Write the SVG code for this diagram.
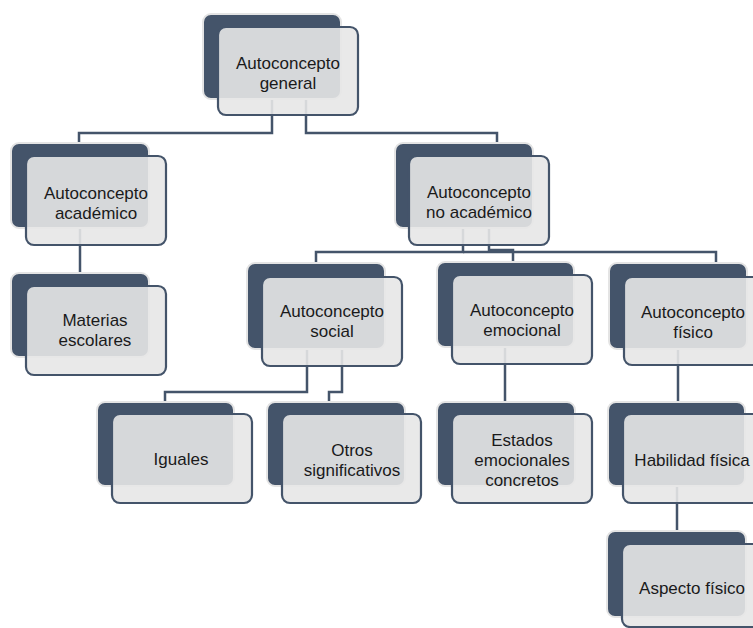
<svg xmlns="http://www.w3.org/2000/svg" width="753" height="628" viewBox="0 0 753 628">
<style>
.back{fill:#44546A;stroke:#e4e4e4;stroke-width:2}
.front{fill:#e7e7e7;fill-opacity:0.9;stroke:#44546A;stroke-width:2.2}
.lbl{font-family:"Liberation Sans",Arial,sans-serif;font-size:17px;fill:#1a1a1a;text-anchor:middle}
.conn{fill:none;stroke:#44546A;stroke-width:2.5}
</style>
<rect width="753" height="628" fill="#ffffff"/>
<g id="connectors" class="conn">
<path d="M272,60 V133 H79 V145"/>
<path d="M306,60 V133 H497 V145"/>
<path d="M80,200 V275"/>
<path d="M463,200 V252 H316 V265"/>
<path d="M463,252 H716 V265"/>
<path d="M489,200 V250 H513 V264"/>
<path d="M307,320 V392 H165 V404"/>
<path d="M342,320 V392 H329 V404"/>
<path d="M505,320 V404"/>
<path d="M678,320 V404"/>
<path d="M677,460 V533"/>
</g>
<g id="n-general">
<rect class="back" x="203" y="14" width="138" height="85" rx="8"/>
<rect class="front" x="218" y="27" width="140" height="88" rx="8"/>
<text class="lbl" x="288" y="69">Autoconcepto</text>
<text class="lbl" x="288" y="89">general</text>
</g>
<g id="n-academico">
<rect class="back" x="11" y="143" width="138" height="85" rx="8"/>
<rect class="front" x="26" y="156" width="140" height="89" rx="8"/>
<text class="lbl" x="96" y="199">Autoconcepto</text>
<text class="lbl" x="96" y="219">académico</text>
</g>
<g id="n-noacademico">
<rect class="back" x="395" y="143" width="138" height="85" rx="8"/>
<rect class="front" x="409" y="156" width="140" height="89" rx="8"/>
<text class="lbl" x="479" y="198">Autoconcepto</text>
<text class="lbl" x="479" y="218">no académico</text>
</g>
<g id="n-materias">
<rect class="back" x="11" y="273" width="138" height="84" rx="8"/>
<rect class="front" x="26" y="286" width="140" height="89" rx="8"/>
<text class="lbl" x="95" y="326">Materias</text>
<text class="lbl" x="95" y="346">escolares</text>
</g>
<g id="n-social">
<rect class="back" x="247" y="263" width="138" height="86" rx="8"/>
<rect class="front" x="262" y="277" width="140" height="89" rx="8"/>
<text class="lbl" x="332" y="317">Autoconcepto</text>
<text class="lbl" x="332" y="337">social</text>
</g>
<g id="n-emocional">
<rect class="back" x="437" y="262" width="137" height="85" rx="8"/>
<rect class="front" x="452" y="275" width="140" height="89" rx="8"/>
<text class="lbl" x="522" y="316">Autoconcepto</text>
<text class="lbl" x="522" y="336">emocional</text>
</g>
<g id="n-fisico">
<rect class="back" x="609" y="263" width="138" height="86" rx="8"/>
<rect class="front" x="624" y="277" width="140" height="88" rx="8"/>
<text class="lbl" x="693" y="318">Autoconcepto</text>
<text class="lbl" x="693" y="338">físico</text>
</g>
<g id="n-iguales">
<rect class="back" x="97" y="402" width="137" height="84" rx="8"/>
<rect class="front" x="112" y="414" width="140" height="89" rx="8"/>
<text class="lbl" x="181" y="465">Iguales</text>
</g>
<g id="n-otros">
<rect class="back" x="267" y="402" width="138" height="84" rx="8"/>
<rect class="front" x="282" y="414" width="139" height="89" rx="8"/>
<text class="lbl" x="352" y="456">Otros</text>
<text class="lbl" x="352" y="476">significativos</text>
</g>
<g id="n-estados">
<rect class="back" x="437" y="402" width="138" height="84" rx="8"/>
<rect class="front" x="452" y="414" width="140" height="89" rx="8"/>
<text class="lbl" x="522" y="446">Estados</text>
<text class="lbl" x="522" y="466">emocionales</text>
<text class="lbl" x="522" y="486">concretos</text>
</g>
<g id="n-habilidad">
<rect class="back" x="608" y="402" width="137" height="84" rx="8"/>
<rect class="front" x="623" y="414" width="140" height="89" rx="8"/>
<text class="lbl" x="692" y="466">Habilidad física</text>
</g>
<g id="n-aspecto">
<rect class="back" x="607" y="531" width="139" height="86" rx="8"/>
<rect class="front" x="622" y="544" width="140" height="83" rx="8"/>
<text class="lbl" x="692" y="594">Aspecto físico</text>
</g>
</svg>
